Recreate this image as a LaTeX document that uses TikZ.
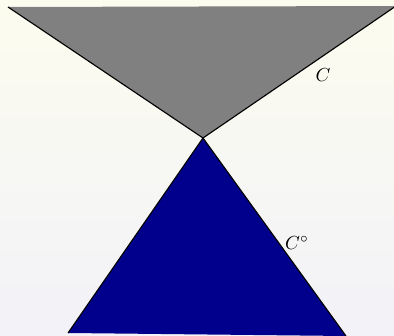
\documentclass[tikz,border=0pt]{standalone}
\definecolor{bgtop}{RGB}{252,252,238}
\definecolor{bgbot}{RGB}{242,242,248}
\definecolor{conegray}{RGB}{128,128,128}
\definecolor{coneblue}{RGB}{0,0,140}
\begin{document}
\begin{tikzpicture}[x=0.53pt,y=-0.53pt,
  edge/.style={draw=black,line width=0.6pt},
  lbl/.style={inner sep=0pt}]
\useasboundingbox (0,0) rectangle (394,336);
\shade[top color=bgtop,bottom color=bgbot] (0,0) rectangle (394,336);
\coordinate (apex) at (203,138);
\coordinate (tl) at (8,7);
\coordinate (tr) at (396,6);
\coordinate (bl) at (68,333);
\coordinate (br) at (346,336);
\fill[conegray] (tl) -- (apex) -- (tr) -- cycle;
\draw[edge] (tl) -- (apex) -- (tr);
\fill[coneblue] (bl) -- (apex) -- (br) -- cycle;
\draw[edge] (bl) -- (apex) -- (br);
\node[lbl] (c) at (323,75) {$C$};
\node[lbl] (cpolar) at (297,243) {$C^\circ$};
\end{tikzpicture}
\end{document}
